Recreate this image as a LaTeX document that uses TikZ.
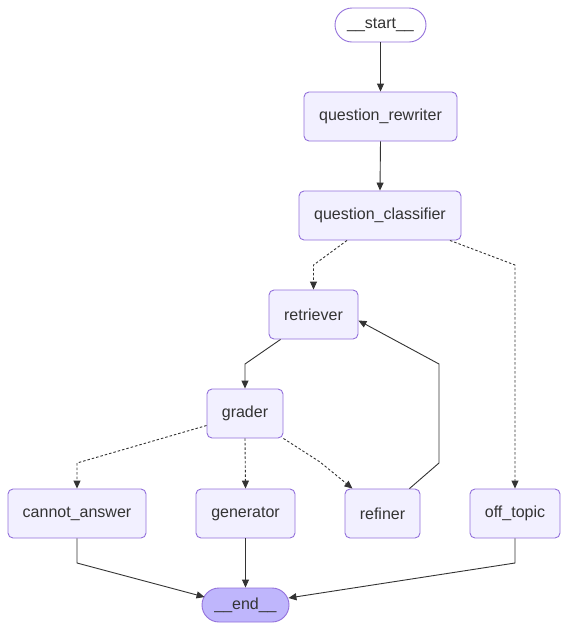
\documentclass[tikz,border=0pt]{standalone}
\usepackage{fontspec}
\setmainfont{Liberation Sans}
\usetikzlibrary{arrows.meta,calc}
\definecolor{mfill}{HTML}{F2F0FF}
\definecolor{mend}{HTML}{BFB6FC}
\definecolor{mborder}{HTML}{9370DB}
\definecolor{mtext}{HTML}{333333}
\definecolor{medge}{HTML}{333333}
\tikzset{
  box/.style={draw=mborder, fill=mfill, rounded corners=5pt, minimum height=49pt,
    text=mtext, font=\fontsize{16}{19}\selectfont, inner sep=0pt, line width=0.9pt},
  pill/.style={box, rounded corners=17pt, minimum height=34pt},
  edge/.style={draw=medge, line width=0.9pt, -{Triangle[length=8pt,width=7pt]}},
  edgedash/.style={edge, dash pattern=on 2.5pt off 2pt},
}
\begin{document}
\begin{tikzpicture}[x=1pt,y=-1pt]
\useasboundingbox (0,0) rectangle (569,630);
\node[pill, fill=white, minimum width=91pt] (start) at (380.5,25) {\_\_start\_\_};
\node[box, minimum width=153pt] (qr) at (380.5,116.5) {question\_rewriter};
\node[box, minimum width=162pt] (qc) at (380,215.5) {question\_classifier};
\node[box, minimum width=89pt] (ret) at (313.5,314.5) {retriever};
\node[box, minimum width=76pt] (gr) at (245,413.5) {grader};
\node[box, minimum width=138pt] (ca) at (77,513.5) {cannot\_answer};
\node[box, minimum width=99pt] (gen) at (245.5,513.5) {generator};
\node[box, minimum width=75pt] (ref) at (382.5,513.5) {refiner};
\node[box, minimum width=90pt] (off) at (515,513.5) {off\_topic};
\node[pill, fill=mend, minimum width=87pt] (end) at (245.5,605) {\_\_end\_\_};

\coordinate (c1) at (313.5,265);
\coordinate (c2) at (515,265);
\coordinate (c3) at (245,364);
\coordinate (c4) at (77,463);
\coordinate (c5) at (320,462);
\coordinate (c6) at (439,463);
\coordinate (c7) at (439,364);
\coordinate (c8) at (77,563);
\coordinate (c9) at (515,563);

\draw[edge] (start.south) -- (qr.north);
\draw[edge] (qr.south) -- (qc.north);
\draw[edgedash] ([xshift=-33pt]qc.south) -- (c1) -- (ret.north);
\draw[edgedash] ([xshift=70pt]qc.south) -- (c2) -- (off.north);
\draw[edge] ([xshift=-33pt]ret.south) -- (c3) -- (gr.north);
\draw[edgedash] ([yshift=-12pt]gr.west) -- (c4) -- (ca.north);
\draw[edgedash] (gr.south) -- (gen.north);
\draw[edgedash] (gr.south east) -- (c5) -- ([xshift=-30pt]ref.north);
\draw[edge] ([xshift=27pt]ref.north) -- (c6) -- (c7) -- ([yshift=-6pt]ret.east);
\draw[edge] (ca.south) -- (c8) -- ([xshift=3pt,yshift=8pt]end.west);
\draw[edge] (gen.south) -- (end.north);
\draw[edge] (off.south) -- (c9) -- ([xshift=-1pt,yshift=7pt]end.east);
\end{tikzpicture}
\end{document}
